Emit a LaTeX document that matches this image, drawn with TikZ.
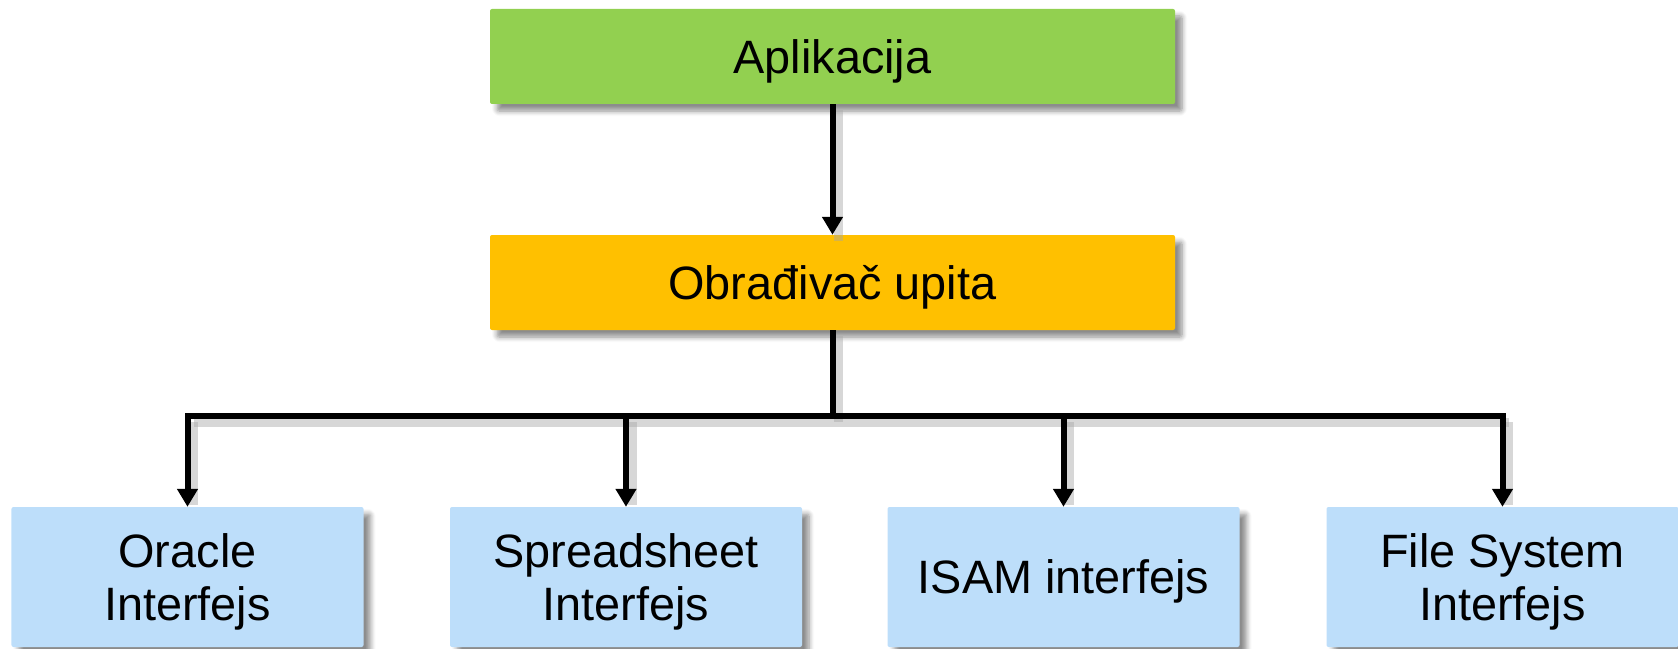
\documentclass[tikz,border=0pt]{standalone}
\usepackage{fontspec}
\setmainfont{Liberation Sans}
\usetikzlibrary{arrows.meta,shadows.blur}
\definecolor{appgreen}{HTML}{92D050}
\definecolor{procorange}{HTML}{FFC000}
\definecolor{ifblue}{HTML}{BDDEFA}
\begin{document}
\begin{tikzpicture}[x=1bp,y=-1bp,
  box/.style={rectangle, rounded corners=2bp, inner sep=0pt, align=center,
    font=\fontsize{47}{54}\selectfont, text depth=0pt,
    blur shadow={shadow xshift=7bp, shadow yshift=-7bp, shadow blur steps=6,
      shadow blur radius=5bp, shadow opacity=45}},
  topbox/.style={box, minimum width=685bp, minimum height=95bp},
  ifbox/.style={box, fill=ifblue, minimum width=352bp, minimum height=140bp},
  conn/.style={line width=6bp, -{Triangle[length=18bp,width=20bp]}},
  plain/.style={line width=6bp},
  lshadow/.style={draw=black!35, line width=9bp, opacity=0.45,
    transform canvas={xshift=6bp,yshift=-6bp}}]
\useasboundingbox (0,0) rectangle (1678,649);
\node[topbox, fill=appgreen] (app) at (832.5,56.5) {Aplikacija};
\node[topbox, fill=procorange] (proc) at (832.5,282.5) {Obrađivač upita};
\node[ifbox] (ora) at (187.5,577) {Oracle\\Interfejs};
\node[ifbox] (spr) at (626,577) {Spreadsheet\\Interfejs};
\node[ifbox] (isam) at (1063.5,577) {ISAM interfejs};
\node[ifbox] (fs) at (1502.5,577) {File System\\Interfejs};
\coordinate (bus) at (proc.south |- 0,416);
% connector shadows
\draw[lshadow] (app.south) -- (proc.north);
\draw[lshadow] (proc.south) -- (bus);
\draw[lshadow] (ora.north |- bus) -- (fs.north |- bus);
\foreach \n in {ora,spr,isam,fs} \draw[lshadow] (bus -| \n.north) -- ([yshift=8bp]\n.north);
% connectors
\draw[conn] (app.south) -- (proc.north);
\draw[plain] (proc.south) -- (bus);
\draw[conn] (bus) -| (ora.north);
\draw[conn] (bus) -| (spr.north);
\draw[conn] (bus) -| (isam.north);
\draw[conn] (bus) -| (fs.north);
\end{tikzpicture}
\end{document}
